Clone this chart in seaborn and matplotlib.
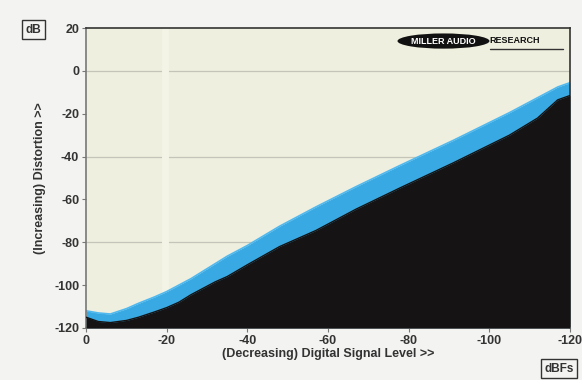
import matplotlib

matplotlib.use("Agg")

import matplotlib.pyplot as plt
import pandas as pd
import seaborn as sns
from matplotlib.patches import Ellipse

# signal level (dBFS) and distortion edges (dB)
signal_level = [0, -3, -6, -10, -13, -17, -20, -23, -26, -29, -32, -35, -40,
                -48, -57, -67, -78, -91, -105, -112, -117, -120]
upper_edge = [-112, -113, -113.5, -111, -108.5, -105.5, -103, -100, -97, -93.5,
              -90, -86.5, -81.5, -72.5, -63.5, -54, -44, -32.5, -19.5, -12.5,
              -7.5, -5.5]
lower_edge = [-115, -117, -117.5, -116.5, -115, -112.5, -110.5, -108, -104.5,
              -101.5, -98.5, -96, -90.5, -82, -74.5, -64.5, -54.5, -43, -30,
              -22, -13.5, -11.5]
x_ticks = [0, -20, -40, -60, -80, -100, -120]
y_ticks = [20, 0, -20, -40, -60, -80, -100, -120]

df = pd.DataFrame({"level": signal_level, "upper": upper_edge, "lower": lower_edge})

sns.set_theme(style="white")
plt.rcParams["font.family"] = ["Liberation Sans", "DejaVu Sans"]
plt.rcParams["axes.unicode_minus"] = False

fig = plt.figure(figsize=(5.82, 3.80), dpi=100, facecolor="#f3f3f1")
ax = fig.add_axes([0.148, 0.137, 0.831, 0.789])
ax.set_facecolor("#efefdf")

blue = "#38a9e2"
dark = "#151313"

ax.fill_between(df["level"], -120, df["upper"], color=blue, lw=0, zorder=2)
ax.fill_between(df["level"], -120, df["lower"], color=dark, lw=0, zorder=3)
sns.lineplot(data=df, x="level", y="upper", color="#4fb8ee", lw=1.2, ax=ax, zorder=2)
sns.lineplot(data=df, x="level", y="lower", color=dark, lw=1.0, ax=ax, zorder=3)

for gy in [0, -40, -80]:
    ax.axhline(gy, color="#c4c4b8", lw=0.9, zorder=1)
ax.axvline(-19.5, color="#f3f3e6", lw=5, zorder=1)

ax.set_xlim(0, -120)
ax.set_ylim(-120, 20)
ax.set_xticks(x_ticks)
ax.set_yticks(y_ticks)
ax.tick_params(axis="both", length=3, width=0.8, color="#777777",
               labelsize=9, labelcolor="#333333", pad=2, direction="out",
               bottom=True, left=True)
for lab in ax.get_xticklabels() + ax.get_yticklabels():
    lab.set_fontweight("bold")

for side in ["left", "bottom"]:
    ax.spines[side].set_color("#777777")
    ax.spines[side].set_linewidth(1.2)
for side in ["top", "right"]:
    ax.spines[side].set_color("#333333")
    ax.spines[side].set_linewidth(1.2)

ax.set_xlabel("(Decreasing) Digital Signal Level >>", fontsize=9,
              fontweight="bold", color="#333333", labelpad=1)
ax.set_ylabel("(Increasing) Distortion >>", fontsize=9, fontweight="bold",
              color="#333333", labelpad=6)

# box labels
fig.text(0.058, 0.922, "dB", fontsize=8.5, fontweight="bold", color="#333333",
         ha="center", va="center",
         bbox=dict(boxstyle="square,pad=0.3", fc="#f3f3f1", ec="#333333", lw=1.0))
fig.text(0.935, 0.03, "dBFs", fontsize=8.5, fontweight="bold", color="#333333",
         ha="left", va="center",
         bbox=dict(boxstyle="square,pad=0.3", fc="#f3f3f1", ec="#333333", lw=1.0))

# logo
logo = Ellipse((0.762, 0.892), 0.158, 0.04, transform=fig.transFigure,
               facecolor="#111111", edgecolor="none", zorder=5)
fig.patches.append(logo)
fig.text(0.762, 0.892, "MILLER AUDIO", fontsize=6.5, fontweight="bold",
         color="white", ha="center", va="center", zorder=6)
fig.text(0.840, 0.894, "RESEARCH", fontsize=6.5, fontweight="bold",
         color="#111111", ha="left", va="center", zorder=6)
fig.add_artist(plt.Line2D([0.842, 0.968], [0.872, 0.872], color="#333333",
                          lw=1.0, transform=fig.transFigure))

fig.savefig("out.png", dpi=100, facecolor=fig.get_facecolor())
